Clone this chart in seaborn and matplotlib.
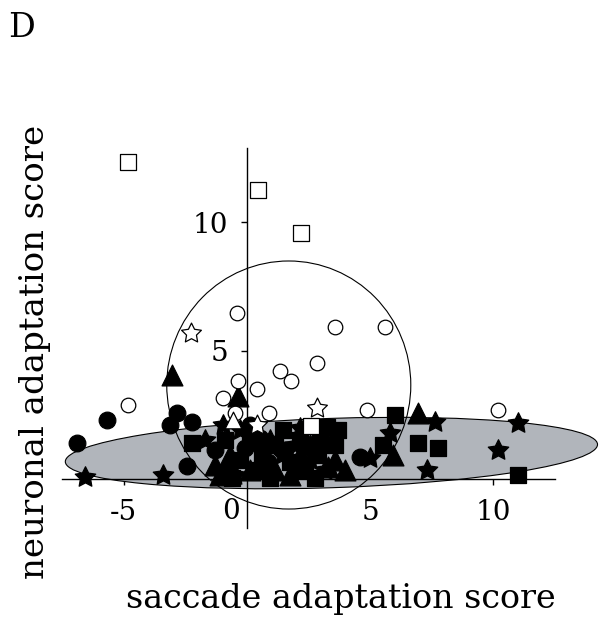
import matplotlib
matplotlib.use("Agg")
import matplotlib.pyplot as plt
from matplotlib.patches import Ellipse
from matplotlib.markers import MarkerStyle
import seaborn as sns
import pandas as pd

# ---- data: saccade adaptation score (x) vs neuronal adaptation score (y) ----
open_square_x = [-4.82, 0.45, 2.19, 2.60]
open_square_y = [12.37, 11.25, 9.60, 2.06]

open_circle_x = [-4.82, -0.40, 3.57, 5.60, 2.84, 1.34, 1.79, -0.36, 0.41, -0.97, -0.48, 0.90, 4.87, 10.18]
open_circle_y = [2.88, 6.46, 5.91, 5.91, 4.51, 4.20, 3.81, 3.81, 3.50, 3.15, 2.57, 2.57, 2.68, 2.68]

open_star_x = [-2.27, 2.84, 0.41]
open_star_y = [5.68, 2.76, 2.10]

open_triangle_x = [-0.56]
open_triangle_y = [2.30]

filled_circle_x = [-6.89, -5.68, -2.84, -3.12, -2.23, -2.43, -1.29, 4.58,
                   -0.08, 0.86, -0.69, 0.53, 1.55, 0.13, 2.15]
filled_circle_y = [1.40, 2.30, 2.57, 2.10, 2.22, 0.51, 1.13, 0.86,
                   1.21, 0.66, 0.54, 1.60, 1.13, 2.10, 0.35]

filled_triangle_x = [-3.04, -0.36, 6.94, 3.29, 5.92, -1.09,
                     -0.69, 0.13, 1.14, 2.15, 3.57, 1.75, 3.98, 0.61, -1.29, 2.56]
filled_triangle_y = [4.05, 3.23, 2.57, 0.47, 0.93, 0.16,
                     0.93, 0.35, 0.35, 0.93, 0.74, 0.16, 0.35, 1.52, 0.54, 1.32]

filled_square_x = [11.00, 7.75, 6.94, 6.00, 5.52, 3.57, 3.25, -2.23,
                   0.13, 0.61, 1.14, 1.75, 2.36, 2.88, -0.28, 1.46, 2.15, 2.76, 0.33,
                   -0.89, 0.94, 2.96, 3.70, -0.60]
filled_square_y = [0.16, 1.21, 1.40, 2.49, 1.32, 1.32, 2.02, 1.40,
                   1.52, 0.93, 1.32, 0.66, 0.35, 0.93, 0.74, 1.91, 1.52, 0.04, 0.35,
                   1.52, 0.04, 1.52, 1.91, 0.04]

filled_star_x = [-6.57, -3.41, 11.00, 10.18, 7.63, 7.30, 5.80, 5.00, -0.97, 3.25,
                 -0.28, 0.94, 1.95, 2.56, 3.17, -0.48, -1.70, 1.42, 2.15, 0.61]
filled_star_y = [0.08, 0.16, 2.18, 1.13, 2.22, 0.35, 1.79, 0.82, 2.10, 1.91,
                 1.91, 1.52, 1.32, 0.74, 0.35, 0.16, 1.52, 0.93, 1.98, 0.35]

# distribution ellipses (data units)
gray_center = (3.43, 1.02)
gray_width, gray_height, gray_angle = 21.6, 2.7, 1.8
ring_center = (1.70, 3.67)
ring_width, ring_height = 9.9, 9.66

x_ticks = [-5, 0, 5, 10]
x_tick_labels = ["-5", "", "5", "10"]
y_ticks = [5, 10]
y_tick_labels = ["5", "10"]

sns.set_theme(style="white")
plt.rcParams["font.family"] = ["DejaVu Serif"]

fig = plt.figure(figsize=(6.03, 6.24), dpi=100)
ax = fig.add_axes([0.1028, 0.1538, 0.8176, 0.609])
ax.set_xlim(-7.5, 12.5)
ax.set_ylim(-1.9, 12.9)

ax.add_patch(Ellipse(gray_center, gray_width, gray_height, angle=gray_angle,
                     facecolor="#b1b5bb", edgecolor="black", linewidth=0.8,
                     zorder=1, clip_on=False))
ax.add_patch(Ellipse(ring_center, ring_width, ring_height,
                     facecolor="none", edgecolor="black", linewidth=0.8,
                     zorder=2, clip_on=False))

star = MarkerStyle((5, 1, 0))
groups = [
    (filled_circle_x, filled_circle_y, "o", "black", 12.0),
    (filled_triangle_x, filled_triangle_y, "^", "black", 15.0),
    (filled_square_x, filled_square_y, "s", "black", 12.0),
    (filled_star_x, filled_star_y, star, "black", 15.5),
    (open_circle_x, open_circle_y, "o", "white", 10.5),
    (open_triangle_x, open_triangle_y, "^", "white", 12.0),
    (open_star_x, open_star_y, star, "white", 15.0),
    (open_square_x, open_square_y, "s", "white", 11.0),
]
for i, (gx, gy, mk, fc, ms) in enumerate(groups):
    df = pd.DataFrame({"x": gx, "y": gy})
    sns.scatterplot(data=df, x="x", y="y", marker=mk, s=ms ** 2,
                    color=fc, edgecolor="black", linewidth=0.9,
                    ax=ax, zorder=3 + i, clip_on=False, legend=False)

# axes cross at the origin
for side in ("top", "right"):
    ax.spines[side].set_visible(False)
ax.spines["left"].set_position(("data", 0))
ax.spines["bottom"].set_position(("data", 0))
for side in ("left", "bottom"):
    ax.spines[side].set_linewidth(1.0)
    ax.spines[side].set_color("black")
    ax.spines[side].set_zorder(2.5)

ax.set_xticks(x_ticks)
ax.set_xticklabels(x_tick_labels)
ax.set_yticks(y_ticks)
ax.set_yticklabels(y_tick_labels)
ax.tick_params(axis="both", direction="out", length=4.5, width=1.0,
               colors="black", labelsize=20)
ax.tick_params(axis="x", pad=10)
ax.tick_params(axis="y", pad=9)
ax.xaxis.set_ticks_position("bottom")
ax.yaxis.set_ticks_position("left")
ax.set_xlabel("")
ax.set_ylabel("")
ax.annotate("0", xy=(0, 0), xycoords="data", xytext=(-16, -32),
            textcoords="offset pixels", ha="center", va="center",
            fontsize=20, color="black")

fig.text(0.566, 0.040, "saccade adaptation score", ha="center", va="center",
         fontsize=24, color="black")
fig.text(0.058, 0.436, "neuronal adaptation score", ha="center", va="center",
         rotation=90, fontsize=24.5, color="black")
fig.text(0.036, 0.955, "D", ha="center", va="center", fontsize=24, color="black")

fig.savefig("out.png", dpi=100)
